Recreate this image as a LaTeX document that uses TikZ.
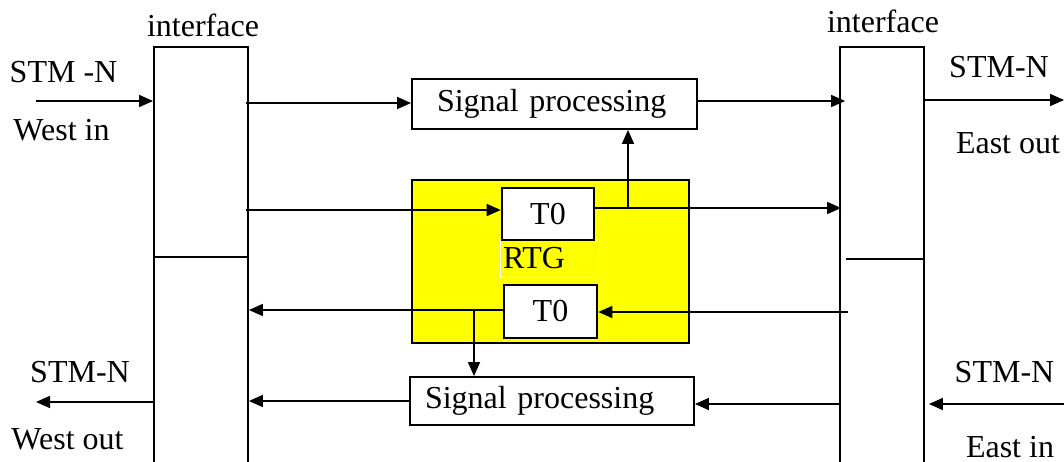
\documentclass[tikz,border=0pt]{standalone}
\usepackage{fontspec}
\setmainfont{Liberation Serif}
\usetikzlibrary{arrows.meta,calc}
\definecolor{rtgyellow}{RGB}{255,255,0}
\begin{document}
\begin{tikzpicture}[x=1pt,y=-1pt,
  box/.style={draw,line width=1.8pt,inner sep=0pt},
  tbox/.style={draw,line width=2.6pt,fill=white,inner sep=0pt,font=\fontsize{32}{36}\selectfont},
  conn/.style={line width=1.6pt,-{Triangle[length=14pt,width=12pt]}},
  wire/.style={line width=1.6pt},
  lab/.style={anchor=base,inner sep=0pt,font=\fontsize{32}{36}\selectfont}]
\useasboundingbox (0,0) rectangle (1064,462);
\clip (0,0) rectangle (1064,462);
% interfaces
\node[box,minimum width=94pt,minimum height=440pt] (ifL) at (201,267) {};
\node[box,minimum width=84pt,minimum height=440pt] (ifR) at (882,267) {};
\coordinate (dL) at (0,257);
\coordinate (dR) at (0,259);
\draw[wire] (ifL.west |- dL) -- (ifL.east |- dL);
\draw[wire] ([xshift=7pt]ifR.west |- dR) -- (ifR.east |- dR);
% labels
\node[lab] (intL) at (203,37) {interface};
\node[lab] (intR) at (883,33) {interface};
\node[lab] (stm1) at (63.5,83) {STM -N};
\node[lab] (win) at (61.5,141) {West in};
\node[lab] (stm2) at (999,78) {STM-N};
\node[lab] (eout) at (1008,154) {East out};
\node[lab] (stm3) at (80,382) {STM-N};
\node[lab] (wout) at (67.5,449) {West out};
\node[lab] (stm4) at (1004.5,382) {STM-N};
\node[lab] (ein) at (1010,457) {East in};
% signal processing boxes
\node[box,minimum width=285pt,minimum height=50pt,inner xsep=25pt,text width=235pt,align=left,font=\fontsize{32}{36}\selectfont] (spU) at (554.5,104) {Signal processing};
\node[box,minimum width=284pt,minimum height=48pt,inner xsep=15pt,text width=254pt,align=left,font=\fontsize{32}{36}\selectfont] (spL) at (552,401) {Signal processing};
% RTG
\node[box,fill=rtgyellow,minimum width=277pt,minimum height=163pt] (rtg) at (550.5,261.5) {};
\node[draw=white,line width=1pt,minimum width=99pt,minimum height=38pt,inner xsep=3pt,inner ysep=0pt,text width=93pt,align=left,font=\fontsize{32}{36}\selectfont] (rtglab) at (549.5,258) {RTG};
\node[tbox,minimum width=92pt,minimum height=52pt] (t0a) at (548,214) {T0};
\node[tbox,minimum width=93pt,minimum height=53pt] (t0b) at (550.5,311.5) {T0};
% connectors
\coordinate (wi) at (36,101);
\draw[conn] (wi) -- (ifL.west |- wi);
\coordinate (a1) at (246,103);
\draw[conn] (a1) -- (a1 -| spU.west);
\coordinate (b1) at ([yshift=3pt]spU.east);
\draw[conn] (b1) -- ($(b1 -| ifR.west)+(6,0)$);
\coordinate (eo) at (1064,100);
\draw[conn] (eo -| ifR.east) -- (eo);
\coordinate (a2) at (246,210);
\draw[conn] (a2) -- (a2 -| t0a.west);
\coordinate (j1) at (628,208);
\draw[wire] (j1 -| t0a.east) -- (j1);
\draw[conn] (j1) -- ($(j1 -| ifR.west)+(2,0)$);
\draw[conn] (j1) -- (j1 |- spU.south);
\coordinate (c1) at (848,312);
\draw[conn] (c1) -- (c1 -| t0b.east);
\coordinate (j2) at (474,310);
\draw[conn] (j2 -| t0b.west) -- (j2 -| ifL.east);
\draw[conn] (j2) -- (j2 |- spL.north);
\draw[conn] (spL.west) -- (spL.west -| ifL.east);
\coordinate (c2) at (840,404);
\draw[conn] (c2) -- (c2 -| spL.east);
\coordinate (wo) at (36,402);
\draw[conn] (wo -| ifL.west) -- (wo);
\coordinate (ei) at (1064,404);
\draw[conn] (ei) -- ($(ei -| ifR.east)+(4,0)$);
\end{tikzpicture}
\end{document}
